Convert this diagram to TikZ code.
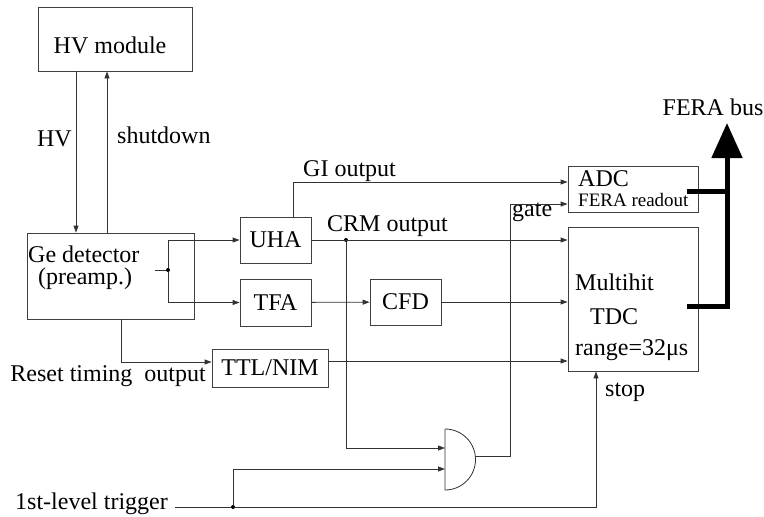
\documentclass[tikz,border=0pt]{standalone}
\usepackage{fontspec}
\setmainfont{Liberation Serif}
\usetikzlibrary{arrows.meta,positioning,calc}

\tikzset{
  blockbox/.style={draw=black!75, line width=0.8pt, inner sep=0pt},
  txt/.style={inner sep=0pt},
  wire/.style={draw=black!80, line width=0.8pt},
  sig/.style={wire, -{Triangle[length=7pt,width=5pt]}},
  busline/.style={line width=5pt, line join=miter},
  busarrow/.style={busline, -{Triangle[length=35pt,width=30pt]}},
  junction/.style={circle, fill=black, inner sep=0pt, minimum size=4pt},
}

\begin{document}
\begin{tikzpicture}[x=1pt,y=-1pt,font=\fontsize{24}{22}\selectfont]
\useasboundingbox (0,0) rectangle (764,517);

% blocks
\node[blockbox, minimum width=154pt, minimum height=64pt] (hv) at (115,39) {};
\node[blockbox, minimum width=167pt, minimum height=86pt] (ge) at (110.5,276) {};
\node[blockbox, minimum width=71pt, minimum height=46pt] (uha) at (275.5,240) {UHA};
\node[blockbox, minimum width=71pt, minimum height=47pt] (tfa) at (275.5,302.5) {TFA};
\node[blockbox, minimum width=71pt, minimum height=46pt] (cfd) at (405.5,302) {CFD};
\node[blockbox, minimum width=116pt, minimum height=38pt] (ttl) at (270,368) {TTL/NIM};
\node[blockbox, minimum width=130pt, minimum height=46pt] (adc) at (633,189) {};
\node[blockbox, minimum width=130pt, minimum height=144pt] (tdc) at (633,299) {};

% texts
\node[txt, anchor=base] (hvname) at (110,53) {HV module};
\node[txt, anchor=base west] (gename) at (28,262) {Ge detector};
\node[txt, anchor=base west] (gesub) at (38,284) {(preamp.)};
\node[txt, anchor=base west] (adcname) at (578,186) {ADC};
\node[txt, anchor=base west, font=\fontsize{19}{22}\selectfont] (adcsub) at (578,206) {FERA readout};
\node[txt, anchor=base west] (tdcname1) at (575,290) {Multihit};
\node[txt, anchor=base west] (tdcname2) at (590,324) {TDC};
\node[txt, anchor=base west] (tdcrange) at (575,355) {range=32μs};
\node[txt, anchor=base east] (hvlab) at (72,146) {HV};
\node[txt, anchor=base west] (shutlab) at (117,143) {shutdown};
\node[txt, anchor=base west] (gilab) at (303,176) {GI output};
\node[txt, anchor=base west] (crmlab) at (327,231) {CRM output};
\node[txt, anchor=base west] (gatelab) at (512,216) {gate};
\node[txt, anchor=base west] (stoplab) at (605,396) {stop};
\node[txt, anchor=base] (buslab) at (713,115) {FERA bus};
\node[txt, anchor=base east] (resetlab) at (206,381) {Reset timing\ \ output};
\node[txt, anchor=base east] (trig) at (168,509) {1st-level trigger};

% AND gate
\draw[wire] (445,429) -- (445,490) arc[start angle=90, end angle=-90, radius=30.5];
\coordinate (andin1) at (445,448);
\coordinate (andin2) at (445,469);
\coordinate (andout) at (475.5,456);

% junctions
\coordinate (gesrc) at (155,270);
\node[junction] (split) at (168,270) {};
\node[junction] (crm) at (346,240) {};
\node[junction] (tdot) at (233,507) {};
\coordinate (adcbus) at (687,191);
\coordinate (tdcbus) at (687,306);
\coordinate (bustop) at (727,123);

% connections
\draw[sig] ([xshift=-39]hv.south) -- ([xshift=-39]hv.south |- ge.north);
\draw[sig] ([xshift=-8]hv.south |- ge.north) -- ([xshift=-8]hv.south);
\draw[wire] (gesrc) -- (split);
\draw[sig] (split) |- (uha.west);
\draw[sig] (split) |- (tfa.west);
\draw[sig] ([xshift=10.5]ge.south) |- ([yshift=6]ttl.west);
\draw[sig] ([xshift=17.5]uha.north) |- ([yshift=7]adc.west);
\draw[sig] (uha.east) -- (uha.east -| tdc.west);
\draw[sig] (crm) |- (andin1);
\draw[sig] (tfa) -- (cfd);
\draw[sig] (cfd.east) -- (cfd.east -| tdc.west);
\draw[sig] ([yshift=7]ttl.east) -- ([yshift=7]ttl.east -| tdc.west);
\draw[wire] ([xshift=7,yshift=2]trig.base east) -- (tdot);
\draw[sig] (tdot) |- (andin2);
\draw[sig] (tdot) -| ([xshift=-37]tdc.south);
\draw[sig] (andout) -- ++(34.5,0) |- ([yshift=-15]adc.west);

% FERA bus
\draw[busline] (adcbus) -- (adcbus -| bustop);
\draw[busarrow] (tdcbus) -| (bustop);
\end{tikzpicture}
\end{document}
